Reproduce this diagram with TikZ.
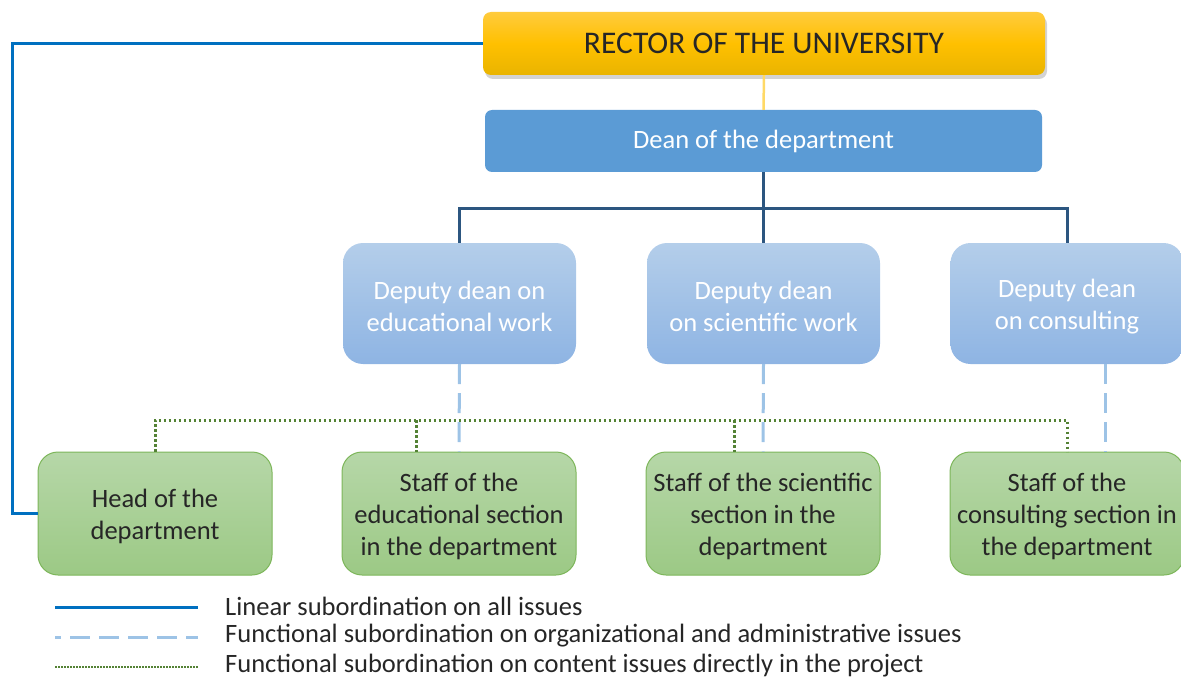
\documentclass[tikz,border=0pt]{standalone}
\usepackage{fontspec}
\setmainfont{Carlito}
\usetikzlibrary{shadows,calc}
\definecolor{txtdark}{HTML}{262626}
\definecolor{linblue}{HTML}{0070C0}
\definecolor{navy}{HTML}{2C5680}
\definecolor{dashblue}{HTML}{9DC3E6}
\definecolor{dotgreen}{HTML}{548235}
\definecolor{yelline}{HTML}{FFD966}
\definecolor{rectop}{HTML}{FFCB3D}
\definecolor{recmid}{HTML}{FFC000}
\definecolor{recbot}{HTML}{E9B400}
\definecolor{deanfill}{HTML}{5B9BD5}
\definecolor{deptop}{HTML}{B4CEEA}
\definecolor{depbot}{HTML}{8EB4E3}
\definecolor{stafftop}{HTML}{B6D7A8}
\definecolor{staffbot}{HTML}{9CC985}
\definecolor{staffline}{HTML}{7DB65A}
\newcommand{\tstrut}{\rule{0pt}{25pt}}
\begin{document}
\begin{tikzpicture}[x=1pt,y=-1pt,
  rectorbox/.style={rounded corners=8pt, minimum width=562pt, minimum height=63pt,
    top color=rectop, bottom color=recbot, middle color=recmid,
    drop shadow={shadow xshift=2pt, shadow yshift=-4pt, opacity=0.35},
    text=txtdark, font=\fontsize{31.5}{36}\selectfont, inner sep=0pt},
  deanbox/.style={rounded corners=7pt, minimum width=557pt, minimum height=62pt,
    fill=deanfill, text=white,
    font=\fontsize{26.5}{32}\selectfont, inner sep=0pt},
  deputybox/.style={rounded corners=20pt, minimum width=233pt, minimum height=121pt,
    top color=deptop, bottom color=depbot,
    text=white, align=center, font=\fontsize{26.5}{32}\selectfont, inner sep=0pt},
  staffbox/.style={rounded corners=20pt, minimum width=234pt, minimum height=123pt,
    top color=stafftop, bottom color=staffbot,
    draw=staffline, line width=1pt,
    text=txtdark, align=center, font=\fontsize{26.5}{32}\selectfont, inner sep=0pt},
  linear/.style={draw=linblue, line width=3pt},
  navyline/.style={draw=navy, line width=3pt},
  funcorg/.style={draw=dashblue, line width=3pt, dash pattern=on 20pt off 9pt},
  funccont/.style={draw=dotgreen, line width=3pt, dash pattern=on 2.5pt off 2.5pt},
  legendtext/.style={anchor=west, text=txtdark, font=\fontsize{26.5}{32}\selectfont, inner sep=0pt}
]
\useasboundingbox (0,0) rectangle (1181,682);

% nodes
\node[rectorbox] (rector) at (764,43.5) {RECTOR OF THE UNIVERSITY};
\node[deanbox] (dean) at (763.5,141) {Dean of the department};

\node[deputybox] (d1) at (459.5,303.5) {\tstrut Deputy dean on\\educational work};
\node[deputybox] (d2) at (763.5,303.5) {\tstrut Deputy dean\\on scientific work};
\node[deputybox] (d3) at (1067,303.5) {\tstrut Deputy dean\\on consulting};

\node[staffbox] (g1) at (155,513.5) {\tstrut Head of the\\department};
\node[staffbox] (g2) at (459,513.5) {\tstrut Staff of the\\educational section\\in the department};
\node[staffbox] (g3) at (763,513.5) {\tstrut Staff of the scientific\\section in the\\department};
\node[staffbox] (g4) at (1067,513.5) {\tstrut Staff of the\\consulting section in\\the department};

% connectors
\draw[draw=yelline, line width=2.5pt] (rector.south) -- (dean.north);

\coordinate (bus) at (763.5,208);
\draw[navyline] (dean.south) -- (d2.north);
\draw[navyline] (d1.north) |- (bus) -| (d3.north);

\draw[funcorg] (d1.south) -- (g2.north);
\draw[funcorg] (d2.south) -- (g3.north);
\draw[funcorg] ($(d3.south)+(38,0)$) -- ($(g4.north)+(38,0)$);

\coordinate (dotbus) at (0,420);
\draw[funccont] (g1.north) |- (g4.north |- dotbus) -- (g4.north);
\draw[funccont] ($(g2.north |- dotbus)+(-43,0)$) -- ($(g2.north)+(-43,0)$);
\draw[funccont] ($(g3.north |- dotbus)+(-29,0)$) -- ($(g3.north)+(-29,0)$);

\coordinate (lcorner) at (12,513.5);
\draw[linear] (rector.west) -| (lcorner) -- (g1.west);

% legend
\coordinate (l1a) at (55,607); \coordinate (l1b) at (198,607);
\coordinate (l2a) at (55,637); \coordinate (l2b) at (198,637);
\coordinate (l3a) at (55,667); \coordinate (l3b) at (198,667);
\draw[linear] (l1a) -- (l1b);
\draw[draw=dashblue, line width=3pt, dash pattern=on 20pt off 9pt, dash phase=14pt] (l2a) -- (l2b);
\draw[draw=dotgreen, line width=1.8pt, dash pattern=on 1.5pt off 1.5pt] (l3a) -- (l3b);
\node[legendtext] (t1) at (225,606) {Linear subordination on all issues};
\node[legendtext] (t2) at (225,636) {Functional subordination on organizational and administrative issues};
\node[legendtext] (t3) at (225,666) {Functional subordination on content issues directly in the project};
\end{tikzpicture}
\end{document}
